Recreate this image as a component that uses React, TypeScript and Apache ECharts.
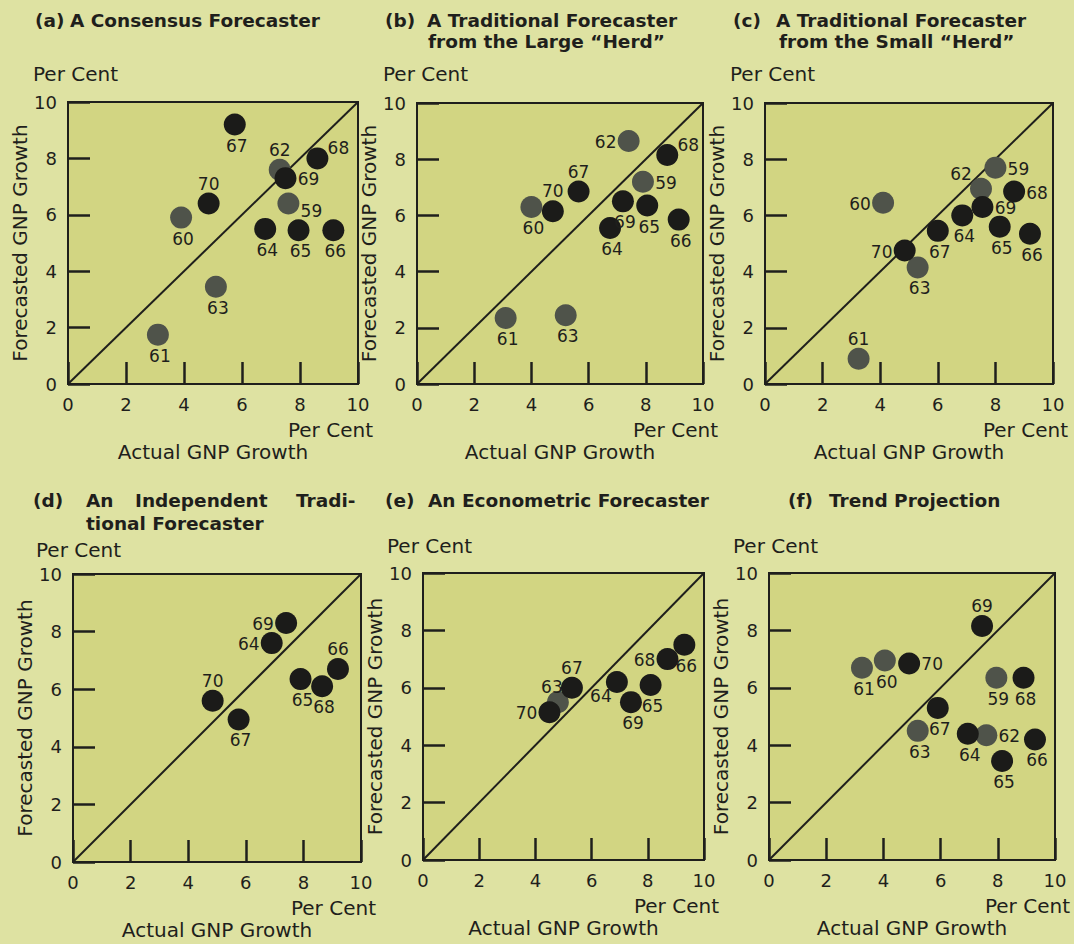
import React, { useEffect, useRef } from "react";
import * as echarts from "echarts";

// ---------- DATA ----------
const yearsA = ["59", "60", "61", "62", "63", "64", "65", "66", "67", "68", "69", "70"];
const actualA = [7.6, 3.9, 3.1, 7.3, 5.1, 6.8, 7.95, 9.15, 5.75, 8.6, 7.5, 4.85];
const forecastA = [6.4, 5.9, 1.75, 7.6, 3.45, 5.5, 5.45, 5.45, 9.2, 8.0, 7.3, 6.4];

const yearsB = ["59", "60", "61", "62", "63", "64", "65", "66", "67", "68", "69", "70"];
const actualB = [7.9, 4.0, 3.1, 7.4, 5.2, 6.75, 8.05, 9.15, 5.65, 8.75, 7.2, 4.75];
const forecastB = [7.2, 6.3, 2.35, 8.65, 2.45, 5.55, 6.35, 5.85, 6.85, 8.15, 6.5, 6.15];

const yearsC = ["59", "60", "61", "62", "63", "64", "65", "66", "67", "68", "69", "70"];
const actualC = [8.0, 4.1, 3.25, 7.5, 5.3, 6.85, 8.15, 9.2, 6.0, 8.65, 7.55, 4.85];
const forecastC = [7.7, 6.45, 0.9, 6.95, 4.15, 6.0, 5.6, 5.35, 5.45, 6.85, 6.3, 4.75];

const yearsD = ["64", "65", "66", "67", "68", "69", "70"];
const actualD = [6.9, 7.9, 9.2, 5.75, 8.65, 7.4, 4.85];
const forecastD = [7.6, 6.35, 6.7, 4.95, 6.1, 8.3, 5.6];

const yearsE = ["63", "64", "65", "66", "67", "68", "69", "70"];
const actualE = [4.8, 6.9, 8.1, 9.3, 5.3, 8.7, 7.4, 4.5];
const forecastE = [5.5, 6.2, 6.1, 7.5, 6.0, 7.0, 5.5, 5.15];

const yearsF = ["59", "60", "61", "62", "63", "64", "65", "66", "67", "68", "69", "70"];
const actualF = [7.95, 4.05, 3.25, 7.6, 5.2, 6.95, 8.15, 9.3, 5.9, 8.9, 7.45, 4.9];
const forecastF = [6.35, 6.95, 6.7, 4.35, 4.5, 4.4, 3.45, 4.2, 5.3, 6.35, 8.15, 6.85];

// perfect-forecast reference line
const diagonal = [
  [0, 0],
  [10, 10],
];
const axisMin = 0;
const axisMax = 10;
const axisStep = 2;

// label side of each point (layout only)
const sidesA = ["br", "b", "b", "t", "b", "b", "b", "b", "b", "tr", "r", "t"];
const sidesB = ["r", "b", "b", "l", "b", "b", "b", "b", "t", "tr", "b", "t"];
const sidesC = ["r", "l", "t", "tl", "b", "b", "b", "b", "b", "r", "r", "l"];
const sidesD = ["l", "b", "t", "b", "b", "l", "t"];
const sidesE = ["tn", "bl", "b", "b", "t", "l", "b", "l"];
const sidesF = ["b", "b", "b", "r", "b", "b", "b", "b", "b", "b", "t", "r"];

// ---------- STYLE ----------
const FONT = '"DejaVu Sans", sans-serif';
const INK = "#1f1f1c";
const PAGE = "#dee2a2";
const PLOT = "#d2d582";
const DARK = "#1b1b19";
const GRAY = "#4f534a";

const OFF: Record<string, number[]> = {
  b: [2, 21],
  t: [0, -20],
  r: [23, 1],
  l: [-23, 1],
  tr: [21, -10],
  br: [23, 7],
  tl: [-20, -15],
  tn: [-6, -15],
  bl: [-16, 14],
};

const grids = [
  { left: 68, top: 102, width: 290, height: 282 },
  { left: 417, top: 103, width: 286, height: 281 },
  { left: 765, top: 103, width: 288, height: 281 },
  { left: 73, top: 574, width: 288, height: 288 },
  { left: 423, top: 573, width: 281, height: 287 },
  { left: 769, top: 573, width: 286, height: 287 },
];

const panels = [
  { years: yearsA, actual: actualA, forecast: forecastA, sides: sidesA },
  { years: yearsB, actual: actualB, forecast: forecastB, sides: sidesB },
  { years: yearsC, actual: actualC, forecast: forecastC, sides: sidesC },
  { years: yearsD, actual: actualD, forecast: forecastD, sides: sidesD },
  { years: yearsE, actual: actualE, forecast: forecastE, sides: sidesE },
  { years: yearsF, actual: actualF, forecast: forecastF, sides: sidesF },
];

const titleTexts: [string, number, number][] = [
  ["(a)", 35, 20],
  ["A Consensus Forecaster", 70, 20],
  ["(b)", 385, 20],
  ["A Traditional Forecaster", 427, 20],
  ["from the Large “Herd”", 428, 41],
  ["(c)", 733, 20],
  ["A Traditional Forecaster", 776, 20],
  ["from the Small “Herd”", 779, 41],
  ["(d)", 33, 500],
  ["An", 86, 500],
  ["Independent", 135, 500],
  ["Tradi-", 296, 500],
  ["tional Forecaster", 86, 523],
  ["(e)", 385, 500],
  ["An Econometric Forecaster", 428, 500],
  ["(f)", 788, 500],
  ["Trend Projection", 829, 500],
];

const perCentTop: [number, number][] = [
  [33, 74],
  [383, 74],
  [730, 74],
  [36, 550],
  [387, 546],
  [733, 546],
];

function buildOption() {
  const gridOpt: any[] = [];
  const xAxes: any[] = [];
  const yAxes: any[] = [];
  const series: any[] = [];
  const graphic: any[] = [];

  grids.forEach((g, i) => {
    gridOpt.push({
      ...g,
      show: true,
      backgroundColor: PLOT,
      borderColor: INK,
      borderWidth: 2,
    });
    const tick = {
      inside: true,
      length: 22,
      lineStyle: { color: INK, width: 2.5 },
    };
    const lab = { margin: 11, fontSize: 18, fontFamily: FONT, color: INK };
    const nameStyle = { fontSize: 20, fontFamily: FONT, color: INK };
    xAxes.push({
      gridIndex: i,
      type: "value",
      min: axisMin,
      max: axisMax,
      interval: axisStep,
      axisLine: { show: false },
      splitLine: { show: false },
      axisTick: tick,
      axisLabel: lab,
      name: "Actual GNP Growth",
      nameLocation: "middle",
      nameGap: 58,
      nameTextStyle: nameStyle,
    });
    yAxes.push({
      gridIndex: i,
      type: "value",
      min: axisMin,
      max: axisMax,
      interval: axisStep,
      axisLine: { show: false },
      splitLine: { show: false },
      axisTick: tick,
      axisLabel: lab,
      name: "Forecasted GNP Growth",
      nameLocation: "middle",
      nameRotate: 90,
      nameGap: 34,
      nameTextStyle: nameStyle,
    });

    series.push({
      type: "line",
      xAxisIndex: i,
      yAxisIndex: i,
      data: diagonal,
      symbol: "none",
      silent: true,
      lineStyle: { color: INK, width: 2 },
      z: 1,
    });

    const p = panels[i];
    const mk = (early: boolean) =>
      p.years
        .map((yr, k) => ({ yr, k }))
        .filter(({ yr }) => (Number(yr) <= 63) === early)
        .map(({ yr, k }) => ({
          name: yr,
          value: [p.actual[k], p.forecast[k]],
          label: { offset: OFF[p.sides[k]] },
        }));
    [true, false].forEach((early) => {
      series.push({
        type: "scatter",
        xAxisIndex: i,
        yAxisIndex: i,
        symbol: "circle",
        symbolSize: 22,
        itemStyle: { color: early ? GRAY : DARK, opacity: 1 },
        label: {
          show: true,
          position: "inside",
          formatter: "{b}",
          fontSize: 17,
          fontFamily: FONT,
          color: INK,
        },
        data: mk(early),
        z: early ? 2 : 3,
      });
    });

    // "Per Cent" unit labels
    graphic.push({
      type: "text",
      x: perCentTop[i][0],
      y: perCentTop[i][1],
      style: {
        text: "Per Cent",
        font: `20px ${FONT}`,
        fill: INK,
        align: "left",
        verticalAlign: "middle",
        textAlign: "left",
        textVerticalAlign: "middle",
      },
    });
    graphic.push({
      type: "text",
      x: g.left + g.width + 15,
      y: g.top + g.height + 46,
      style: {
        text: "Per Cent",
        font: `20px ${FONT}`,
        fill: INK,
        align: "right",
        verticalAlign: "middle",
        textAlign: "right",
        textVerticalAlign: "middle",
      },
    });
  });

  titleTexts.forEach(([t, x, y]) => {
    graphic.push({
      type: "text",
      x,
      y,
      style: {
        text: t,
        font: `bold 18.5px ${FONT}`,
        fill: INK,
        align: "left",
        verticalAlign: "middle",
        textAlign: "left",
        textVerticalAlign: "middle",
      },
    });
  });

  return {
    animation: false,
    backgroundColor: PAGE,
    grid: gridOpt,
    xAxis: xAxes,
    yAxis: yAxes,
    series,
    graphic,
  };
}

export default function App() {
  const ref = useRef<HTMLDivElement>(null);
  useEffect(() => {
    document.body.style.margin = "0";
    const chart = echarts.init(ref.current as HTMLDivElement, null, { renderer: "svg" });
    chart.setOption(buildOption() as any);
    return () => chart.dispose();
  }, []);
  return <div ref={ref} style={{ width: 1074, height: 944 }} />;
}
